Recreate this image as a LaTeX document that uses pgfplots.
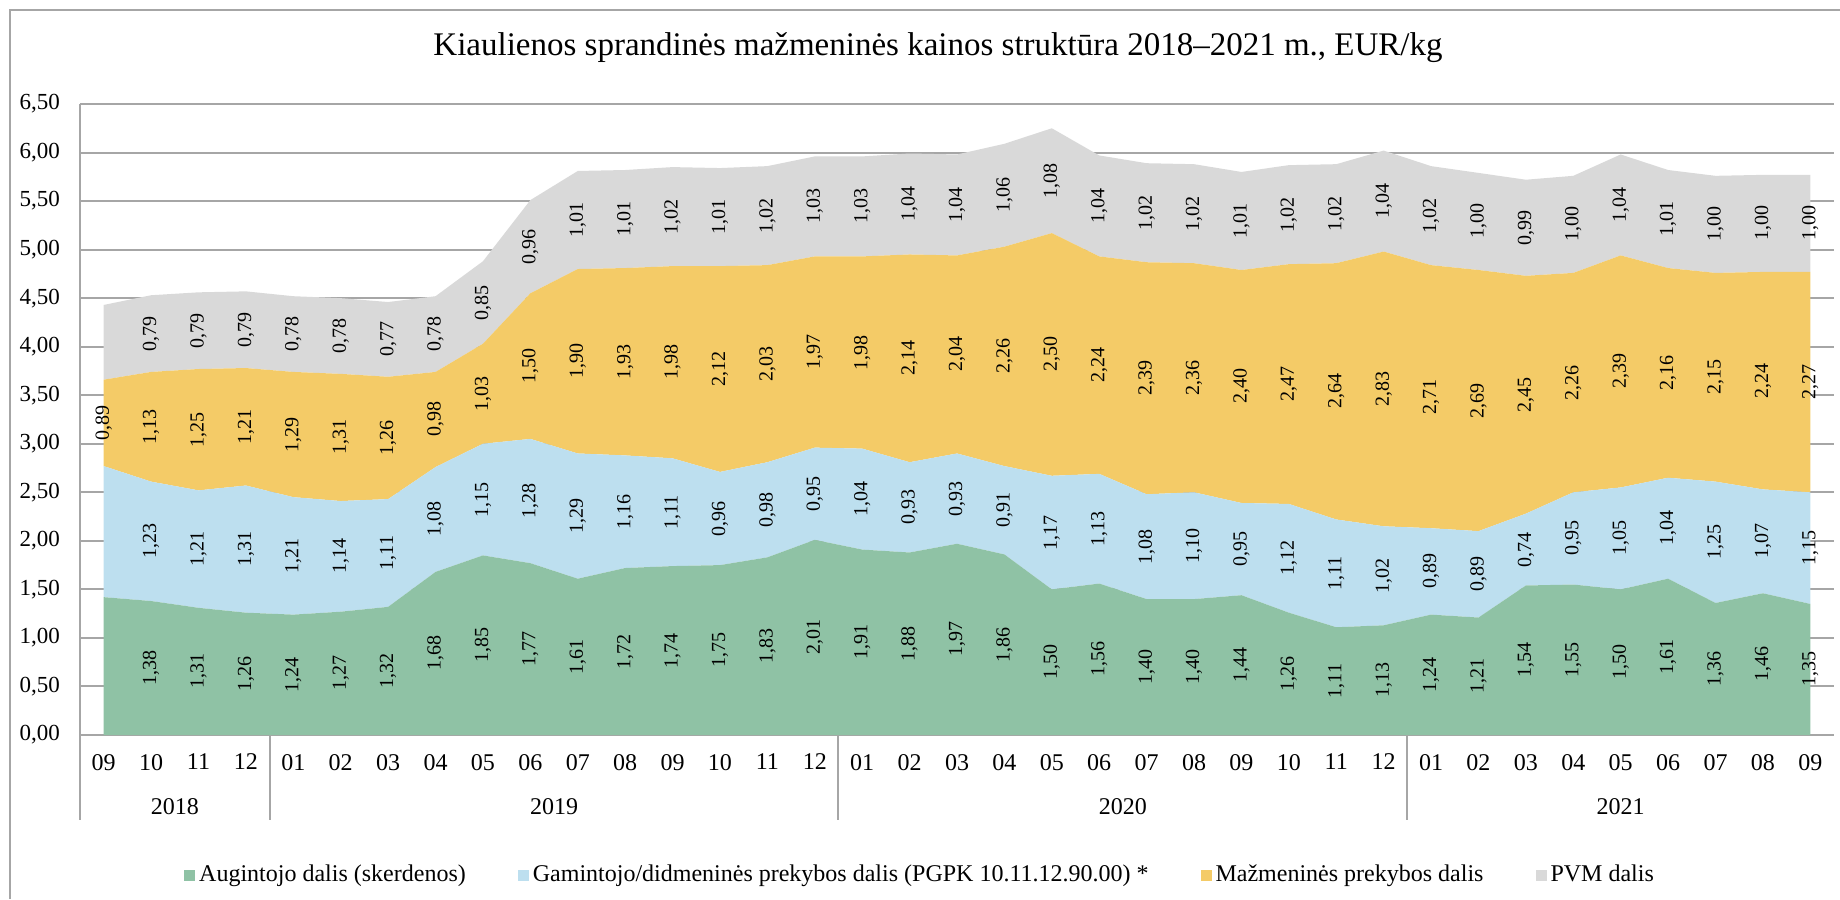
\documentclass[border=0pt]{standalone}
\usepackage{fontspec}
\setmainfont{Liberation Serif}
\usepackage{pgfplots}
\usepackage{pgfplotstable}
\pgfplotsset{compat=1.18}

\definecolor{cgreen}{HTML}{8FC2A5}
\definecolor{cblue}{HTML}{BDDFEF}
\definecolor{cyellow}{HTML}{F4CB67}
\definecolor{cgray}{HTML}{D9D9D9}
\definecolor{linec}{HTML}{A6A6A6}

% a = augintojo, b = gamintojo/didmenine, c = mazmenine, d = PVM
\pgfplotstableread{
x a b c d
0 1.42 1.35 0.89 0.77
1 1.38 1.23 1.13 0.79
2 1.31 1.21 1.25 0.79
3 1.26 1.31 1.21 0.79
4 1.24 1.21 1.29 0.78
5 1.27 1.14 1.31 0.78
6 1.32 1.11 1.26 0.77
7 1.68 1.08 0.98 0.78
8 1.85 1.15 1.03 0.85
9 1.77 1.28 1.50 0.96
10 1.61 1.29 1.90 1.01
11 1.72 1.16 1.93 1.01
12 1.74 1.11 1.98 1.02
13 1.75 0.96 2.12 1.01
14 1.83 0.98 2.03 1.02
15 2.01 0.95 1.97 1.03
16 1.91 1.04 1.98 1.03
17 1.88 0.93 2.14 1.04
18 1.97 0.93 2.04 1.04
19 1.86 0.91 2.26 1.06
20 1.50 1.17 2.50 1.08
21 1.56 1.13 2.24 1.04
22 1.40 1.08 2.39 1.02
23 1.40 1.10 2.36 1.02
24 1.44 0.95 2.40 1.01
25 1.26 1.12 2.47 1.02
26 1.11 1.11 2.64 1.02
27 1.13 1.02 2.83 1.04
28 1.24 0.89 2.71 1.02
29 1.21 0.89 2.69 1.00
30 1.54 0.74 2.45 0.99
31 1.55 0.95 2.26 1.00
32 1.50 1.05 2.39 1.04
33 1.61 1.04 2.16 1.01
34 1.36 1.25 2.15 1.00
35 1.46 1.07 2.24 1.00
36 1.35 1.15 2.27 1.00
}\data
% label positions: middle of each band
\pgfplotstablecreatecol[create col/expr={\thisrow{a}/2}]{ma}\data
\pgfplotstablecreatecol[create col/expr={\thisrow{a}+\thisrow{b}/2}]{mb}\data
\pgfplotstablecreatecol[create col/expr={\thisrow{a}+\thisrow{b}+\thisrow{c}/2}]{mc}\data
\pgfplotstablecreatecol[create col/expr={\thisrow{a}+\thisrow{b}+\thisrow{c}+\thisrow{d}/2}]{md}\data

\pgfplotsset{
  base/.style={
    scale only axis, width=877pt, height=315.5pt,
    at={(40pt,82pt)}, anchor=south west,
    xmin=-0.5, xmax=36.5, ymin=0, ymax=6.5,
    clip=false,
    /pgf/number format/assume math mode=true,
  },
}
\tikzset{
  yr/.style={font=\fontsize{12}{12}\selectfont, yshift=-36pt},
  sep/.style={linec, line width=1pt},
}

\begin{document}
\begin{tikzpicture}
\useasboundingbox (0,0) rectangle (920pt,449.5pt);
\draw[linec, line width=1pt] (5pt,0) -- (5pt,444.5pt) -- (920pt,444.5pt);
\node[font=\fontsize{16.5}{18}\selectfont] at (469pt,425.5pt)
  {Kiaulienos sprandinės mažmeninės kainos struktūra 2018–2021 m., EUR/kg};

\begin{axis}[base,
  stack plots=y,
  axis x line*=bottom, axis y line*=left,
  axis line style={linec, line width=1pt},
  major tick length=0pt,
  ymajorgrids, grid style={linec, line width=1pt},
  ytick={0,0.5,...,6.5},
  yticklabel style={/pgf/number format/fixed, /pgf/number format/fixed zerofill,
    /pgf/number format/precision=2, /pgf/number format/use comma,
    font=\fontsize{11.5}{12}\selectfont, xshift=-6.5pt},
  xtick={0,...,36},
  xticklabels={09,10,11,12,01,02,03,04,05,06,07,08,09,10,11,12,01,02,03,04,05,06,07,08,09,10,11,12,01,02,03,04,05,06,07,08,09},
  xticklabel style={font=\fontsize{12}{12}\selectfont, yshift=-6pt},
  legend columns=4,
  legend image code/.code={\fill[#1] (0pt,-2.75pt) rectangle (5.5pt,2.75pt);},
  legend style={at={(0.4795,-0.2219)}, anchor=center, draw=none, fill=none,
    font=\fontsize{12}{12}\selectfont,
    /tikz/every even column/.append style={column sep=24pt}},
]
\addplot[fill=cgreen, draw=none] table[x=x, y=a]{\data} \closedcycle;
\addplot[fill=cblue, draw=none] table[x=x, y=b]{\data} \closedcycle;
\addplot[fill=cyellow, draw=none] table[x=x, y=c]{\data} \closedcycle;
\addplot[fill=cgray, draw=none] table[x=x, y=d]{\data} \closedcycle;
\legend{Augintojo dalis (skerdenos),
  Gamintojo/didmeninės prekybos dalis (PGPK 10.11.12.90.00) *,
  Mažmeninės prekybos dalis, PVM dalis}

\draw[sep] (axis cs:-0.5,0) -- ++(0pt,-42.5pt);
\draw[sep] (axis cs:3.5,0) -- ++(0pt,-42.5pt);
\draw[sep] (axis cs:15.5,0) -- ++(0pt,-42.5pt);
\draw[sep] (axis cs:27.5,0) -- ++(0pt,-42.5pt);
\node[yr] at (axis cs:1.5,0) {2018};
\node[yr] at (axis cs:9.5,0) {2019};
\node[yr] at (axis cs:21.5,0) {2020};
\node[yr] at (axis cs:32,0) {2021};
\end{axis}

\begin{axis}[base, hide axis,
  point meta=explicit,
  nodes near coords={\pgfmathprintnumber[fixed, fixed zerofill, precision=2, use comma]{\pgfplotspointmeta}},
  every node near coord/.style={rotate=90, anchor=center, inner sep=0pt,
    font=\fontsize{10}{10}\selectfont},
]
\addplot[draw=none, skip coords between index={0}{1}] table[x=x, y=ma, meta=a]{\data};
\addplot[draw=none, skip coords between index={0}{1}] table[x=x, y=mb, meta=b]{\data};
\addplot[draw=none] table[x=x, y=mc, meta=c]{\data};
\addplot[draw=none, skip coords between index={0}{1}] table[x=x, y=md, meta=d]{\data};
\end{axis}
\end{tikzpicture}
\end{document}
